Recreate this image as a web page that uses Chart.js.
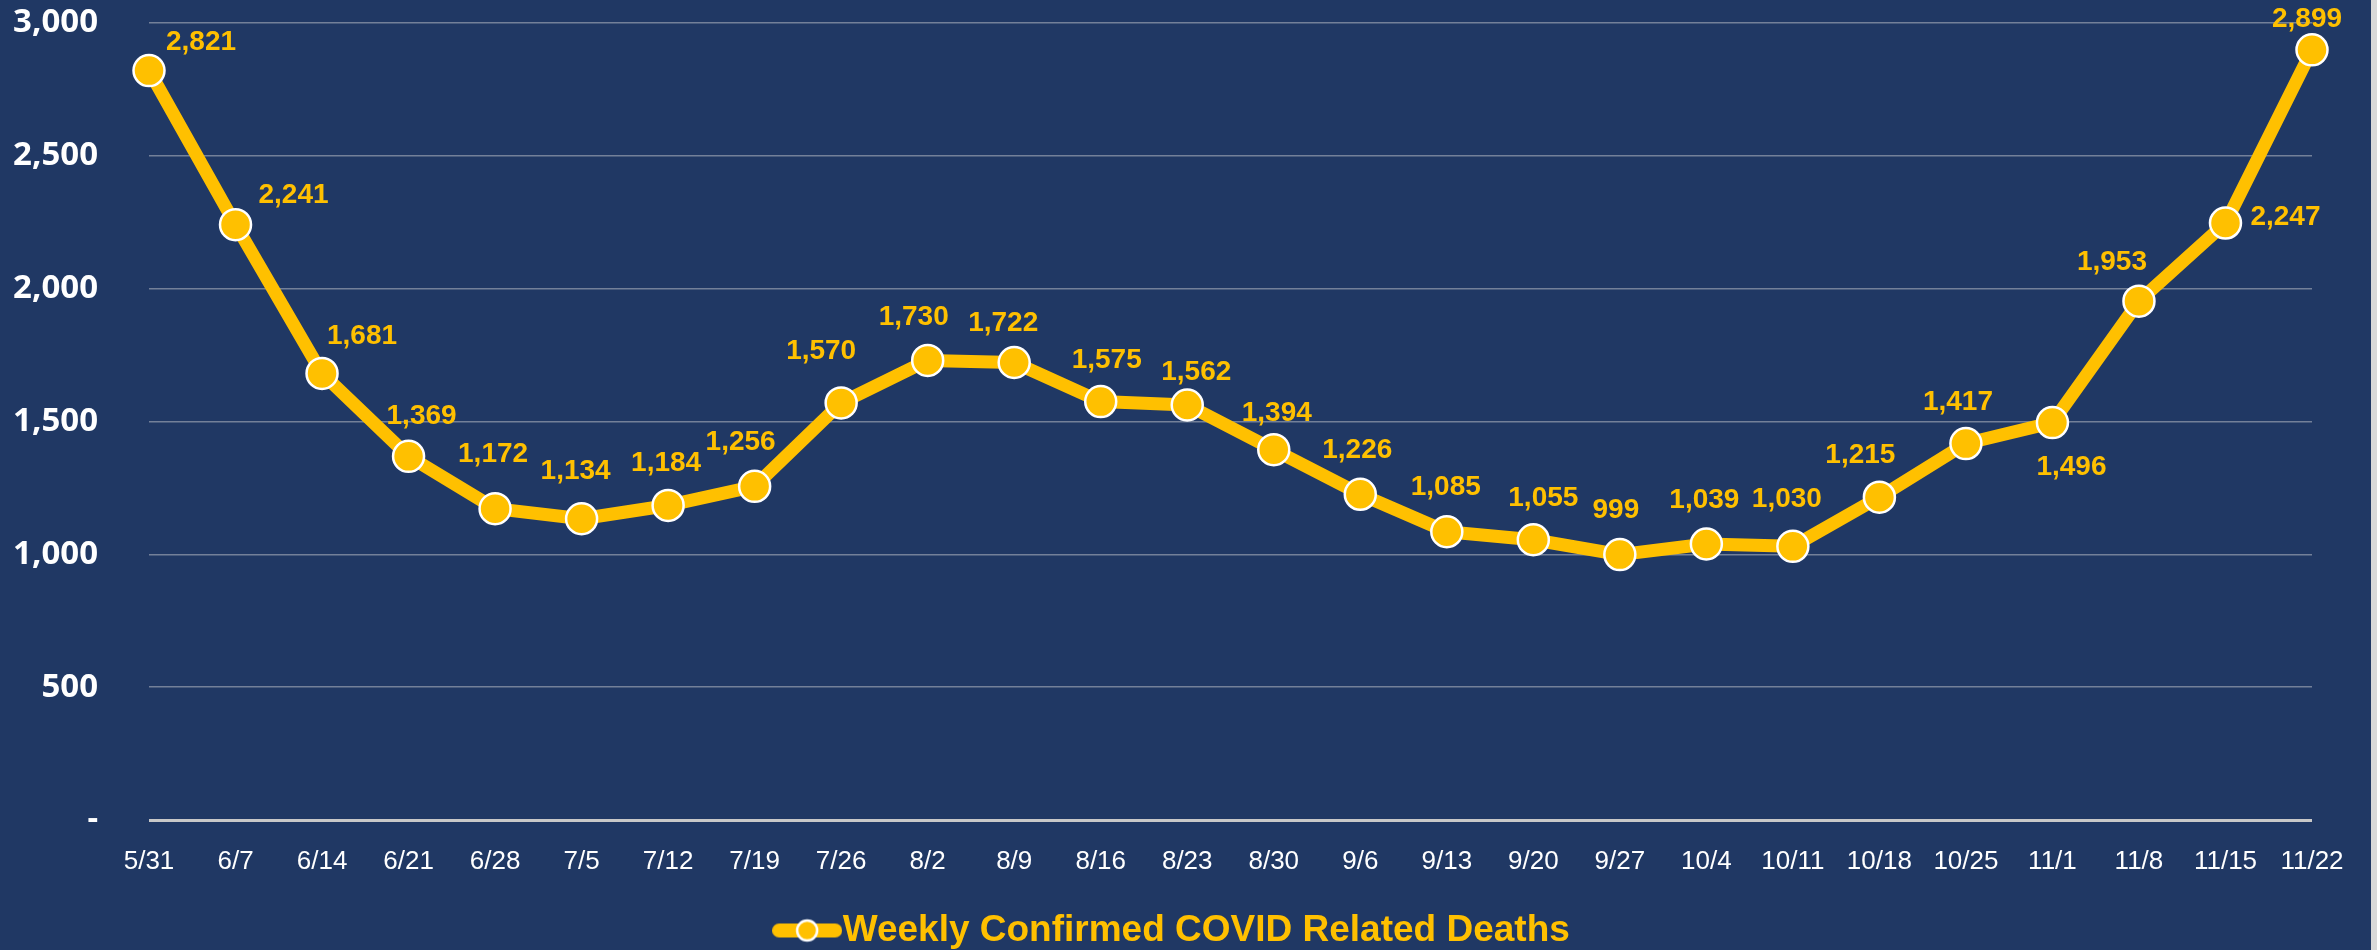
<!DOCTYPE html>
<html>
<head>
<meta charset="utf-8">
<script src="https://cdn.jsdelivr.net/npm/chart.js@4.4.1/dist/chart.umd.min.js"></script>
<style>
  body { margin: 0; background: #d9d9d9; }
  #wrap { width: 2371px; height: 950px; background: #203864; }
</style>
</head>
<body>
<div id="wrap"><canvas id="deaths"></canvas></div>
<script>
var weeks = ['5/31', '6/7', '6/14', '6/21', '6/28', '7/5', '7/12', '7/19', '7/26', '8/2', '8/9', '8/16', '8/23',
             '8/30', '9/6', '9/13', '9/20', '9/27', '10/4', '10/11', '10/18', '10/25', '11/1', '11/8', '11/15', '11/22'];
var deaths = [2821, 2241, 1681, 1369, 1172, 1134, 1184, 1256, 1570, 1730, 1722, 1575, 1562,
              1394, 1226, 1085, 1055, 999, 1039, 1030, 1215, 1417, 1496, 1953, 2247, 2899];
var yTicks = [0, 500, 1000, 1500, 2000, 2500, 3000];
var seriesName = 'Weekly Confirmed COVID Related Deaths';

// where each value label sits relative to its point (px), as placed in the original
var labelShift = [[52, -28], [58, -29], [40, -37], [13, -40], [-2, -54], [-6, -47], [-2, -42], [-14, -44],
                  [-20, -52], [-14, -43], [-11, -39], [6, -41], [9, -33], [3, -36], [-3, -44], [-1, -44],
                  [10, -41], [-4, -44], [-2, -44], [-6, -47], [-19, -42], [-8, -41], [19, 45], [-27, -39],
                  [60, -6], [-5, -31]];

var gold = '#FFC000';

// legend marker: short thick line with a dot on it
var marker = document.createElement('canvas');
marker.width = 70;
marker.height = 26;
var m = marker.getContext('2d');
m.strokeStyle = gold;
m.lineWidth = 14;
m.lineCap = 'round';
m.beginPath(); m.moveTo(7, 13); m.lineTo(63, 13); m.stroke();
m.fillStyle = gold;
m.strokeStyle = '#fff';
m.lineWidth = 2.5;
m.beginPath(); m.arc(35, 13, 10, 0, Math.PI * 2); m.fill(); m.stroke();

var valueLabels = {
    id: 'valueLabels',
    afterDatasetsDraw: function(chart) {
        var ctx = chart.ctx;
        var pts = chart.getDatasetMeta(0).data;
        ctx.save();
        ctx.font = 'bold 28px "Liberation Sans", Arial, sans-serif';
        ctx.fillStyle = gold;
        ctx.textAlign = 'center';
        ctx.textBaseline = 'middle';
        pts.forEach(function(p, i) {
            ctx.fillText(deaths[i].toLocaleString('en-US'), p.x + labelShift[i][0], p.y + labelShift[i][1]);
        });
        ctx.restore();
    }
};

var chart = new Chart(document.getElementById('deaths'), {
    type: 'line',
    data: {
        labels: weeks,
        datasets: [{
            label: seriesName,
            data: deaths,
            borderColor: gold,
            borderWidth: 13,
            borderJoinStyle: 'round',
            tension: 0,
            pointRadius: 15.5,
            pointBorderWidth: 2.5,
            pointBackgroundColor: gold,
            pointBorderColor: '#ffffff',
            clip: false
        }]
    },
    options: {
        responsive: true,
        maintainAspectRatio: false,
        devicePixelRatio: 1,
        animation: false,
        events: [],
        layout: { padding: { left: 0, right: 11, top: 23, bottom: 0 } },
        scales: {
            x: {
                offset: false,
                grid: { display: false },
                border: { display: false },
                ticks: {
                    color: '#ffffff',
                    font: { family: '"Liberation Sans", Arial, sans-serif', size: 26 },
                    padding: 18,
                    maxRotation: 0,
                    autoSkip: false
                },
                afterFit: function(scale) {
                    scale.height = 92;
                    scale.paddingRight = 59;
                }
            },
            y: {
                min: 0,
                max: 3000,
                afterBuildTicks: function(scale) {
                    scale.ticks = yTicks.map(function(v) { return { value: v }; });
                },
                grid: {
                    drawTicks: false,
                    color: function(c) { return c.tick.value === 0 ? '#c8c8c8' : 'rgba(217,217,217,0.45)'; },
                    lineWidth: function(c) { return c.tick.value === 0 ? 3 : 1.5; }
                },
                border: { display: false },
                ticks: {
                    color: '#ffffff',
                    font: { family: '"Open Sans", sans-serif', size: 33, weight: 'bold' },
                    padding: 51,
                    callback: function(v) { return v === 0 ? '-' : v.toLocaleString('en-US'); }
                },
                afterFit: function(scale) {
                    scale.width = 149;
                    scale.paddingTop = 0;
                    scale.paddingBottom = 0;
                }
            }
        },
        plugins: {
            legend: {
                position: 'bottom',
                maxHeight: 38,
                labels: {
                    usePointStyle: true,
                    pointStyle: marker,
                    pointStyleWidth: 34,
                    padding: 0,
                    color: gold,
                    font: { family: '"Liberation Sans", Arial, sans-serif', size: 37, weight: 'bold' }
                }
            },
            tooltip: { enabled: false }
        }
    },
    plugins: [valueLabels]
});
</script>
</body>
</html>
